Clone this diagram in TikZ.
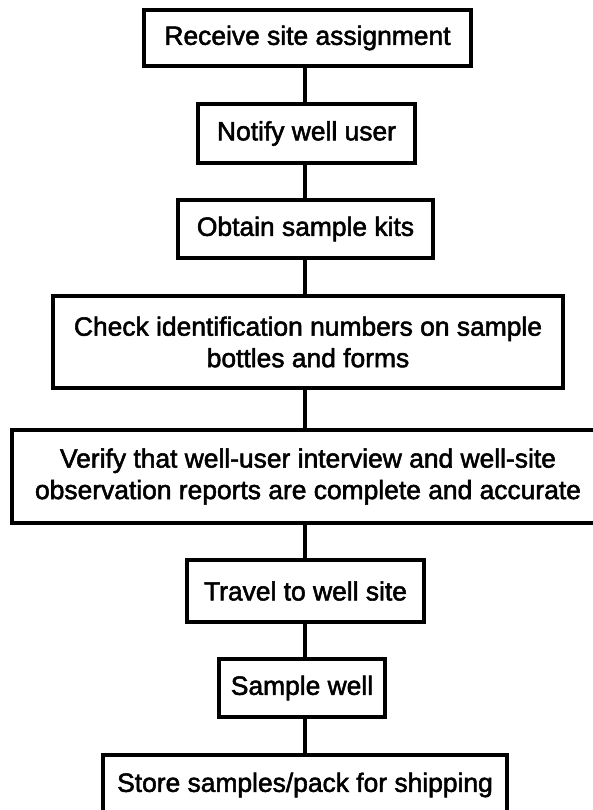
\documentclass[tikz,border=0pt]{standalone}
\usepackage{fontspec}
\setmainfont{Liberation Sans}
\newfontfamily\boxfont[FakeBold=2]{Liberation Sans}
\begin{document}
\begin{tikzpicture}[x=1pt,y=-1pt,
  stepbox/.style={draw, line width=3.4pt, inner sep=0pt, align=center,
    font=\boxfont\fontsize{26.4}{31.5}\selectfont},
  link/.style={line width=3.6pt}]
\useasboundingbox (0,0) rectangle (592,810);
\coordinate (ax) at (305,0);
\node[stepbox, minimum width=327pt, minimum height=56pt] (b1) at (307.5,38) {Receive site assignment};
\node[stepbox, minimum width=217pt, minimum height=59pt] (b2) at (306.5,133.5) {Notify well user};
\node[stepbox, minimum width=255pt, minimum height=58pt] (b3) at (305.5,229) {Obtain sample kits};
\node[stepbox, minimum width=510pt, minimum height=92pt] (b4) at (308,342) {Check identification numbers on sample\\bottles and forms};
\node[stepbox, minimum width=592pt, minimum height=93pt] (b5) at (308,476.5) {Verify that well-user interview and well-site\\observation reports are complete and accurate};
\node[stepbox, minimum width=237pt, minimum height=62pt] (b6) at (305.5,591) {Travel to well site};
\node[stepbox, minimum width=166pt, minimum height=58pt] (b7) at (302,688) {Sample well};
\node[stepbox, minimum width=404pt, minimum height=60pt] (b8) at (305,785) {Store samples/pack for shipping};
\draw[link] (b1.south -| ax) -- (b2.north -| ax);
\draw[link] (b2.south -| ax) -- (b3.north -| ax);
\draw[link] (b3.south -| ax) -- (b4.north -| ax);
\draw[link] (b4.south -| ax) -- (b5.north -| ax);
\draw[link] (b5.south -| ax) -- (b6.north -| ax);
\draw[link] (b6.south -| ax) -- (b7.north -| ax);
\draw[link] (b7.south -| ax) -- (b8.north -| ax);
\end{tikzpicture}
\end{document}
